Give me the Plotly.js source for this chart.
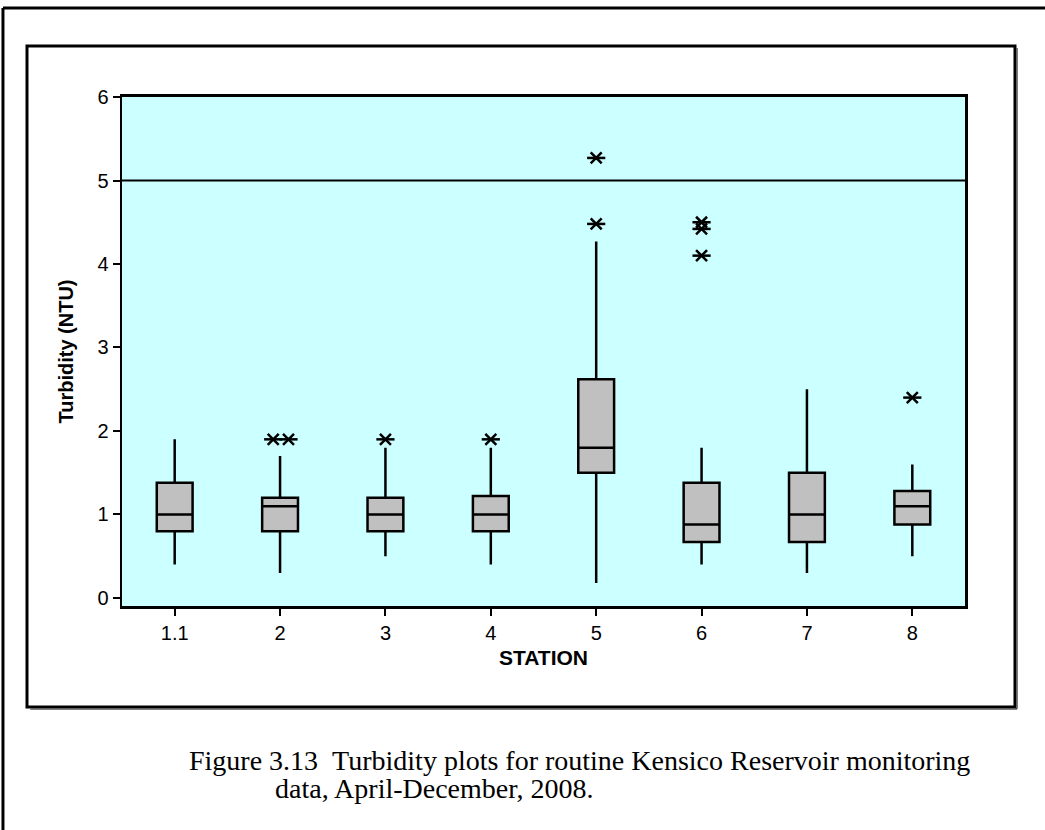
<!DOCTYPE html>
<html>
<head>
<meta charset="utf-8">
<script src="https://cdn.plot.ly/plotly-3.0.1.min.js"></script>
<style>html,body{margin:0;padding:0;background:#fff;}#chart{width:1045px;height:830px;}</style>
</head>
<body>
<div id="chart"></div>
<script>
// ---- data ----
var stations      = ['1.1', '2', '3', '4', '5', '6', '7', '8'];
var lowerWhisker  = [0.40, 0.30, 0.50, 0.40, 0.18, 0.40, 0.30, 0.50];
var q1            = [0.80, 0.80, 0.80, 0.80, 1.50, 0.67, 0.67, 0.88];
var median        = [1.00, 1.10, 1.00, 1.00, 1.80, 0.88, 1.00, 1.10];
var q3            = [1.38, 1.20, 1.20, 1.22, 2.62, 1.38, 1.50, 1.28];
var upperWhisker  = [1.90, 1.70, 1.80, 1.80, 4.27, 1.80, 2.50, 1.60];
var outlierStation = ['2', '2', '3', '4', '5', '5', '6', '6', '6', '8'];
var outlierValue   = [1.9, 1.9, 1.9, 1.9, 5.27, 4.48, 4.50, 4.42, 4.10, 2.4];
var limitValue = 5;
var tickVals = [0, 1, 2, 3, 4, 5, 6];

// ---- build ----
var pos = stations.map(function (s, i) { return i; });
// side-by-side placement for identical outliers (as in the original)
var seen = {};
var outX = outlierStation.map(function (s, i) {
  var key = s + '|' + outlierValue[i];
  var n = seen[key] || 0; seen[key] = n + 1;
  var base = stations.indexOf(s);
  var dupCount = outlierStation.filter(function (t, j) { return t === s && outlierValue[j] === outlierValue[i]; }).length;
  if (dupCount < 2) return base;
  return base + (n === 0 ? -0.065 : 0.08);
});

var boxTrace = {
  type: 'box',
  x: pos,
  q1: q1, median: median, q3: q3,
  lowerfence: lowerWhisker, upperfence: upperWhisker,
  boxpoints: false,
  fillcolor: '#C0C0C0',
  line: {color: '#000', width: 2.5},
  whiskerwidth: 0,
  width: 0.34,
  hoverinfo: 'skip',
  showlegend: false
};
var starA = {
  type: 'scatter', mode: 'markers', x: outX, y: outlierValue,
  marker: {symbol: 'x-thin-open', size: 11, color: '#000', line: {color: '#000', width: 2.5}},
  hoverinfo: 'skip', showlegend: false
};
var starB = {
  type: 'scatter', mode: 'markers', x: outX, y: outlierValue,
  marker: {symbol: 'line-ew-open', size: 13, color: '#000', line: {color: '#000', width: 2.5}},
  hoverinfo: 'skip', showlegend: false
};

var sans = 'Liberation Sans, Arial, sans-serif';
var axisFont = {family: sans, size: 20, color: '#000'};
var layout = {
  width: 1045, height: 830,
  margin: {l: 122, r: 80, t: 97, b: 224, pad: 0},
  paper_bgcolor: '#fff',
  plot_bgcolor: '#CCFFFF',
  showlegend: false,
  xaxis: {
    range: [-0.5, 7.5],
    tickvals: pos, ticktext: stations,
    ticks: 'outside', ticklen: 7, tickwidth: 2, tickcolor: '#000',
    showline: true, linecolor: '#000', linewidth: 3, mirror: true,
    showgrid: false, zeroline: false,
    tickfont: axisFont,
    title: {text: '<b>STATION</b>', font: {family: sans, size: 21, color: '#000'}, standoff: 8}
  },
  yaxis: {
    range: [-0.096, 6],
    tickvals: tickVals,
    ticks: 'outside', ticklen: 7, tickwidth: 2, tickcolor: '#000',
    showline: true, linecolor: '#000', linewidth: 2.5, mirror: true,
    showgrid: false, zeroline: false,
    tickfont: axisFont,
    title: {text: '<b>Turbidity (NTU)</b>', font: {family: sans, size: 20, color: '#000'}, standoff: 19}
  },
  shapes: [
    {type: 'line', xref: 'paper', yref: 'y', x0: 0, x1: 1, y0: limitValue, y1: limitValue,
     line: {color: '#000', width: 2}},
    // inner chart frame
    {type: 'rect', xref: 'paper', yref: 'paper', x0: -0.1127, x1: 1.0593, y0: -0.1984, y1: 1.1002,
     line: {color: '#000', width: 3}, layer: 'below'},
    {type: 'line', xref: 'paper', yref: 'paper', x0: 1.0617, x1: 1.0617, y0: -0.2023, y1: 1.0963,
     line: {color: '#555', width: 1.5}},
    {type: 'line', xref: 'paper', yref: 'paper', x0: -0.1088, x1: 1.0617, y0: -0.2023, y1: -0.2023,
     line: {color: '#555', width: 1.5}},
    // outer page frame
    {type: 'line', xref: 'paper', yref: 'paper', x0: -0.1412, x1: -0.1412, y0: -0.45, y1: 1.1749,
     line: {color: '#000', width: 3}},
    {type: 'line', xref: 'paper', yref: 'paper', x0: -0.1412, x1: 1.10, y0: 1.1749, y1: 1.1749,
     line: {color: '#000', width: 3}}
  ],
  annotations: [
    {xref: 'paper', yref: 'paper', x: 0.0771, y: -0.3026, xanchor: 'left', yanchor: 'middle', showarrow: false,
     text: 'Figure 3.13&nbsp;&nbsp;Turbidity plots for routine Kensico Reservoir monitoring',
     font: {family: 'Liberation Serif, Times New Roman, serif', size: 28, color: '#000'}},
    {xref: 'paper', yref: 'paper', x: 0.1791, y: -0.3576, xanchor: 'left', yanchor: 'middle', showarrow: false,
     text: 'data, April-December, 2008.',
     font: {family: 'Liberation Serif, Times New Roman, serif', size: 28, color: '#000'}}
  ]
};

Plotly.newPlot('chart', [boxTrace, starA, starB], layout, {staticPlot: true, displayModeBar: false});
</script>
</body>
</html>
